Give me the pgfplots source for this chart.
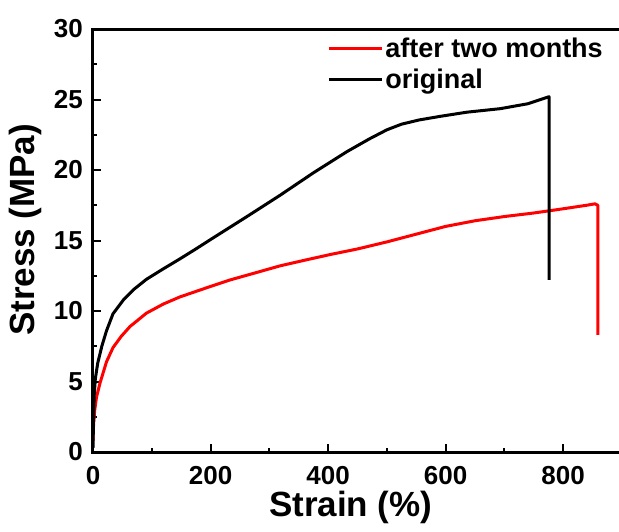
\documentclass[border=0pt]{standalone}
\usepackage{pgfplots}
\pgfplotsset{compat=1.18}
\usepackage{fontspec}
\setmainfont{Liberation Sans}
\definecolor{myred}{RGB}{255,0,0}
\begin{document}
\begin{tikzpicture}
\path[use as bounding box] (-93pt,-79pt) rectangle (526pt,452pt);
\begin{axis}[
  at={(0pt,0pt)}, anchor=origin,
  scale only axis, width=526pt, height=423pt,
  xmin=0, xmax=895, ymin=0, ymax=30,
  xtick={0,200,400,600,800}, ytick={0,5,10,15,20,25,30},
  minor xtick={100,300,500,700}, minor ytick={2.5,7.5,12.5,17.5,22.5,27.5},
  xtick pos=bottom, ytick pos=left, tick align=inside,
  major tick length=8pt, minor tick length=4.5pt,
  every tick/.style={black, line width=2pt},
  axis line style={draw=none},
  /pgf/number format/assume math mode=true,
  ticklabel style={font=\fontsize{26}{28}\selectfont\bfseries},
  yticklabel style={inner sep=0pt, xshift=-10pt},
  xticklabel style={inner sep=0pt, yshift=-14pt},
  xlabel={Strain (\%)}, ylabel={Stress (MPa)},
  label style={font=\fontsize{35}{37}\selectfont\bfseries},
  xlabel style={at={(axis description cs:0.49,-0.132)}, anchor=center},
  ylabel style={at={(axis description cs:-0.129,0.525)}, anchor=center, rotate=0},
  legend style={at={(0.445,0.985)}, anchor=north west, draw=none, fill=none,
    font=\fontsize{27}{29}\selectfont\bfseries, inner sep=0pt, row sep=6pt,
    cells={anchor=west}},
  legend image code/.code={\draw[#1, line width=3pt] (0pt,0pt) -- (53pt,0pt);},
  clip=false,
]
\addplot[myred, line width=3pt, line join=round] coordinates {
(0,0.8)(1,2)(3,3)(6,3.9)(12,4.9)(23,6.4)(34,7.4)(48,8.2)(63,8.9)(91,9.85)
(120,10.5)(148,11.0)(190,11.6)(233,12.2)(280,12.75)(318,13.2)(360,13.6)(403,14.0)
(450,14.4)(500,14.9)(550,15.45)(600,16.0)(650,16.4)(700,16.7)(750,16.95)(800,17.25)
(840,17.5)(854,17.6)(859,17.5)(859,8.3)
};
\addlegendentry{after two months}
\addplot[black, line width=3pt, line join=round] coordinates {
(0,0.3)(1,2.5)(2,4)(4,5.2)(8,6.3)(15,7.5)(23,8.6)(34,9.8)(52,10.8)(70,11.55)
(91,12.25)(120,13.0)(148,13.7)(175,14.4)(205,15.2)(262,16.7)(318,18.2)(375,19.8)(432,21.3)
(470,22.2)(500,22.85)(525,23.25)(555,23.55)(590,23.8)(636,24.1)(693,24.35)(740,24.7)(776,25.2)(776,12.2)
};
\addlegendentry{original}
\draw[black, line width=3pt] (rel axis cs:1,1) -- (rel axis cs:0,1) -- (rel axis cs:0,0) -- (rel axis cs:1,0);
\draw[black!25, line width=1pt] (rel axis cs:1,0) -- (rel axis cs:1,1);
\end{axis}
\end{tikzpicture}
\end{document}
